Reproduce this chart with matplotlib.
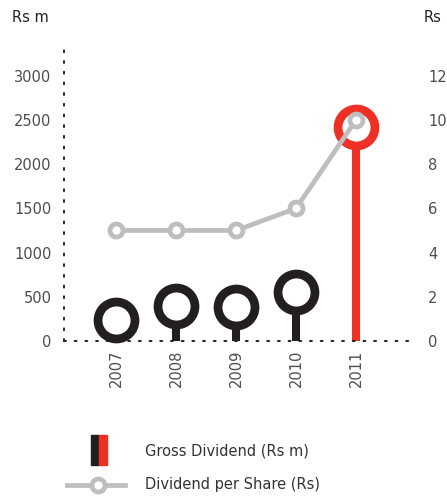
import matplotlib.pyplot as plt
from matplotlib.lines import Line2D
from matplotlib.patches import Rectangle

# data
years = ['2007', '2008', '2009', '2010', '2011']
gross_dividend = [235, 395, 390, 555, 2425]     # Rs m
dps = [5, 5, 5, 6, 10]                          # Rs

black = '#231f20'
red = '#ee3124'
grey = '#bcbec0'
txt = '#4d4d4d'

plt.rcParams['font.family'] = ['DejaVu Sans']

fig = plt.figure(figsize=(4.47, 4.99), dpi=100)
ax = fig.add_axes([64 / 447, 158 / 499, 349 / 447, 298 / 499])
ax2 = ax.twinx()

x = list(range(len(years)))
colors = [black] * 4 + [red]

ymax = 3370
ax.set_ylim(0, ymax)
ax.set_xlim(-0.87, 4.95)
ax2.set_ylim(0, ymax / 250)

# ring outer radius in data units: ~23 px
px_per_unit = 298 / ymax
ring_r = 23 / px_per_unit

# stems
for xi, v, c in zip(x, gross_dividend, colors):
    top = max(v - ring_r, 0)
    ax.plot([xi, xi], [0, top], color=c, lw=5.8, solid_capstyle='butt', zorder=2)

# rings
for xi, v, c in zip(x, gross_dividend, colors):
    ax.plot(xi, v, marker='o', ms=26.6, mew=6.3, mec=c, mfc='white',
            zorder=3, clip_on=False)

# dividend per share line
ax2.plot(x, dps, color=grey, lw=3.4, marker='o', ms=9.4, mew=3.4,
         mec=grey, mfc='white', zorder=4)
ax2.set_zorder(ax.get_zorder() + 1)
ax2.patch.set_visible(False)

# axes styling
for a in (ax, ax2):
    for s in a.spines.values():
        s.set_visible(False)
for s in ('left', 'bottom'):
    ax.spines[s].set_visible(True)
    ax.spines[s].set_linestyle((0, (1, 4.5)))
    ax.spines[s].set_linewidth(1.4)
    ax.spines[s].set_color(black)
    ax.spines[s].set_capstyle('round')

ax.set_yticks([0, 500, 1000, 1500, 2000, 2500, 3000])
ax.set_xticks(x)
ax.set_xticklabels(years, rotation=90)
ax.tick_params(axis='y', length=0, pad=9, labelsize=10.5, labelcolor=txt)
ax.tick_params(axis='x', length=0, pad=6, labelsize=10.5, labelcolor=txt)
ax2.set_yticks([0, 2, 4, 6, 8, 10, 12])
ax2.tick_params(axis='y', length=0, pad=11, labelsize=10.5, labelcolor=txt)

fig.text(12 / 447, 1 - 18 / 499, 'Rs m', fontsize=10.5, color=black, va='center', ha='left')
fig.text(424 / 447, 1 - 18 / 499, 'Rs', fontsize=10.5, color=black, va='center', ha='left')

# legend drawn by hand
fig.patches.append(Rectangle((91 / 447, 1 - 465 / 499), 8 / 447, 30 / 499,
                             transform=fig.transFigure, color=black))
fig.patches.append(Rectangle((99 / 447, 1 - 465 / 499), 8 / 447, 30 / 499,
                             transform=fig.transFigure, color=red))
fig.lines.append(Line2D([67 / 447, 125 / 447], [1 - 485 / 499] * 2,
                        transform=fig.transFigure, color=grey, lw=3.4))
fig.lines.append(Line2D([98 / 447], [1 - 485 / 499], transform=fig.transFigure,
                        marker='o', ms=9.4, mew=3.4, mec=grey, mfc='white'))
fig.text(145 / 447, 1 - 451 / 499, 'Gross Dividend (Rs m)', fontsize=10.5,
         color='#333333', va='center', ha='left')
fig.text(145 / 447, 1 - 485 / 499, 'Dividend per Share (Rs)', fontsize=10.5,
         color='#333333', va='center', ha='left')

fig.savefig('out.png', dpi=100)
